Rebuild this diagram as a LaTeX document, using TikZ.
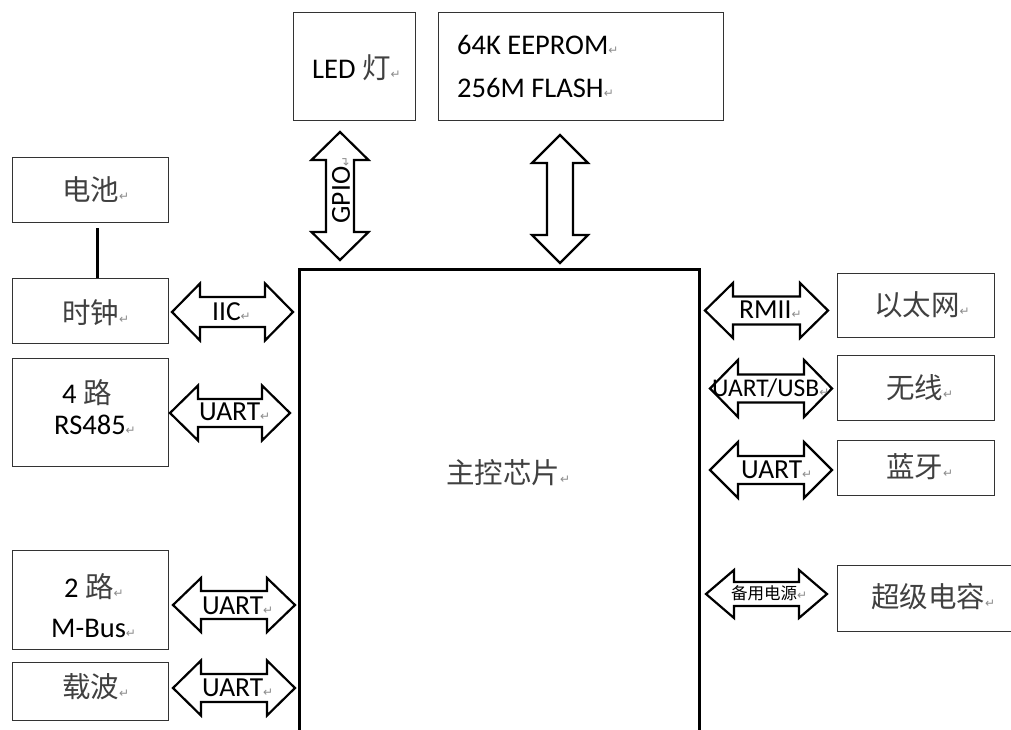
\documentclass[tikz,border=0pt]{standalone}
\usepackage{fontspec}
\setmainfont{Carlito}
\newfontfamily\cjk{Noto Sans CJK SC}
\newfontfamily\dejavu{DejaVu Sans}
\usetikzlibrary{calc}
\newcommand{\zh}[1]{{\cjk\color{black!75}#1}}
\newcommand{\rt}{{\dejavu\fontsize{12}{12}\selectfont\color{black!45}↵}}
\newcommand{\mybox}[5]{\node[box, anchor=north west, minimum width=#4pt, minimum height=#5pt, inner sep=0pt] (#1) at (#2,#3) {};}
% horizontal block double arrow: x1, x2, yc, H, h
\newcommand{\harr}[5]{\draw[blockarrow] (#1,#3) -- ++(28,-#4) -- ++(0,#4-#5) -- (#2-28,#3-#5) -- ++(0,#5-#4) -- (#2,#3) -- ++(-28,#4) -- ++(0,#5-#4) -- (#1+28,#3+#5) -- ++(0,#4-#5) -- cycle;}
% vertical block double arrow: xc, y1, y2, H, h
\newcommand{\varr}[5]{\draw[blockarrow] (#1,#2) -- ++(#4,28) -- ++(#5-#4,0) -- (#1+#5,#3-28) -- ++(#4-#5,0) -- (#1,#3) -- ++(-#4,-28) -- ++(#4-#5,0) -- (#1-#5,#2+28) -- ++(#5-#4,0) -- cycle;}
\begin{document}
\begin{tikzpicture}[x=1pt,y=-1pt,
  box/.style={draw=black!80, line width=1.4pt},
  lbl/.style={font=\fontsize{28.5}{32}\selectfont, anchor=west, inner sep=0pt},
  albl/.style={font=\fontsize{27.5}{30}\selectfont, anchor=west, inner sep=0pt},
  blockarrow/.style={draw=black, line width=2.2pt, fill=white, line join=miter}]
\useasboundingbox (0,0) rectangle (1011,730);
\fill[white] (0,0) rectangle (1011,730);

% boxes
\mybox{led}{293}{12}{122}{108}
\mybox{eep}{438}{12}{285}{108}
\mybox{bat}{12}{157}{156}{65}
\mybox{clk}{12}{278}{156}{65}
\mybox{rs}{12}{358}{156}{108}
\mybox{mbus}{12}{550}{156}{99}
\mybox{car}{12}{662}{156}{58}
\mybox{eth}{837}{273}{157}{64}
\mybox{wl}{837}{355}{157}{65}
\mybox{bt}{837}{440}{157}{55}
\mybox{cap}{837}{565}{200}{66}
\node[draw=black, line width=2.6pt, anchor=north west, minimum width=400pt, minimum height=500pt, inner sep=0pt] (chip) at (298,268) {};

% battery to clock
\draw[line width=3.2pt] ($(bat.south)+(7,5)$) -- ($(clk.north)+(7,0)$);

% block arrows
\varr{340}{132}{260}{28.5}{14}
\varr{560}{135}{263}{28}{13}
\harr{172}{293}{312}{28.5}{15}
\harr{170}{290}{413}{27.5}{14}
\harr{173}{295}{605}{27}{14}
\harr{173}{295}{688}{27.5}{14}
\harr{705}{828}{310.5}{27.5}{14}
\harr{710}{832}{388.5}{28.5}{14}
\harr{710}{832}{470}{28}{14}
\harr{706}{827}{594}{24}{12}

% arrow labels
\node[albl, rotate=90, anchor=center] (lgpio) at (341,190) {GPIO\rt};
\node[albl] (liic) at (212,312) {IIC\rt};
\node[albl] (lu1) at (199,412) {UART\rt};
\node[albl] (lu2) at (202,606) {UART\rt};
\node[albl] (lu3) at (202,688) {UART\rt};
\node[albl] (lrmii) at (739,310) {RMII\rt};
\node[albl, font=\fontsize{25.5}{30}\selectfont] (lusb) at (712,388) {UART/USB\rt};
\node[albl] (lu4) at (741,470) {UART\rt};
\node[albl] (lpow) at (731,593) {{\cjk\fontsize{16.5}{18}\selectfont 备用电源}\rt};

% box texts
\node[lbl] (tled) at (312,68) {LED \zh{灯}\rt};
\node[lbl] (te1) at (457,45) {64K EEPROM\rt};
\node[lbl] (te2) at (457,88) {256M FLASH\rt};
\node[lbl] (tbat) at (62,190) {\zh{电池}\rt};
\node[lbl] (tclk) at (62,313) {\zh{时钟}\rt};
\node[lbl] (t485a) at (62,393) {4 \zh{路}};
\node[lbl] (t485b) at (54,425) {RS485\rt};
\node[lbl] (tmb1) at (64,587) {2 \zh{路}\rt};
\node[lbl] (tmb2) at (51,628) {M-Bus\rt};
\node[lbl] (tcar) at (62,687) {\zh{载波}\rt};
\node[lbl] (teth) at (874,305) {\zh{以太网}\rt};
\node[lbl] (twl) at (886,388) {\zh{无线}\rt};
\node[lbl] (tbt) at (886,467) {\zh{蓝牙}\rt};
\node[lbl] (tcap) at (871,597) {\zh{超级电容}\rt};
\node[lbl] (tchip) at (446,473) {\zh{主控芯片}\rt};
\end{tikzpicture}
\end{document}
